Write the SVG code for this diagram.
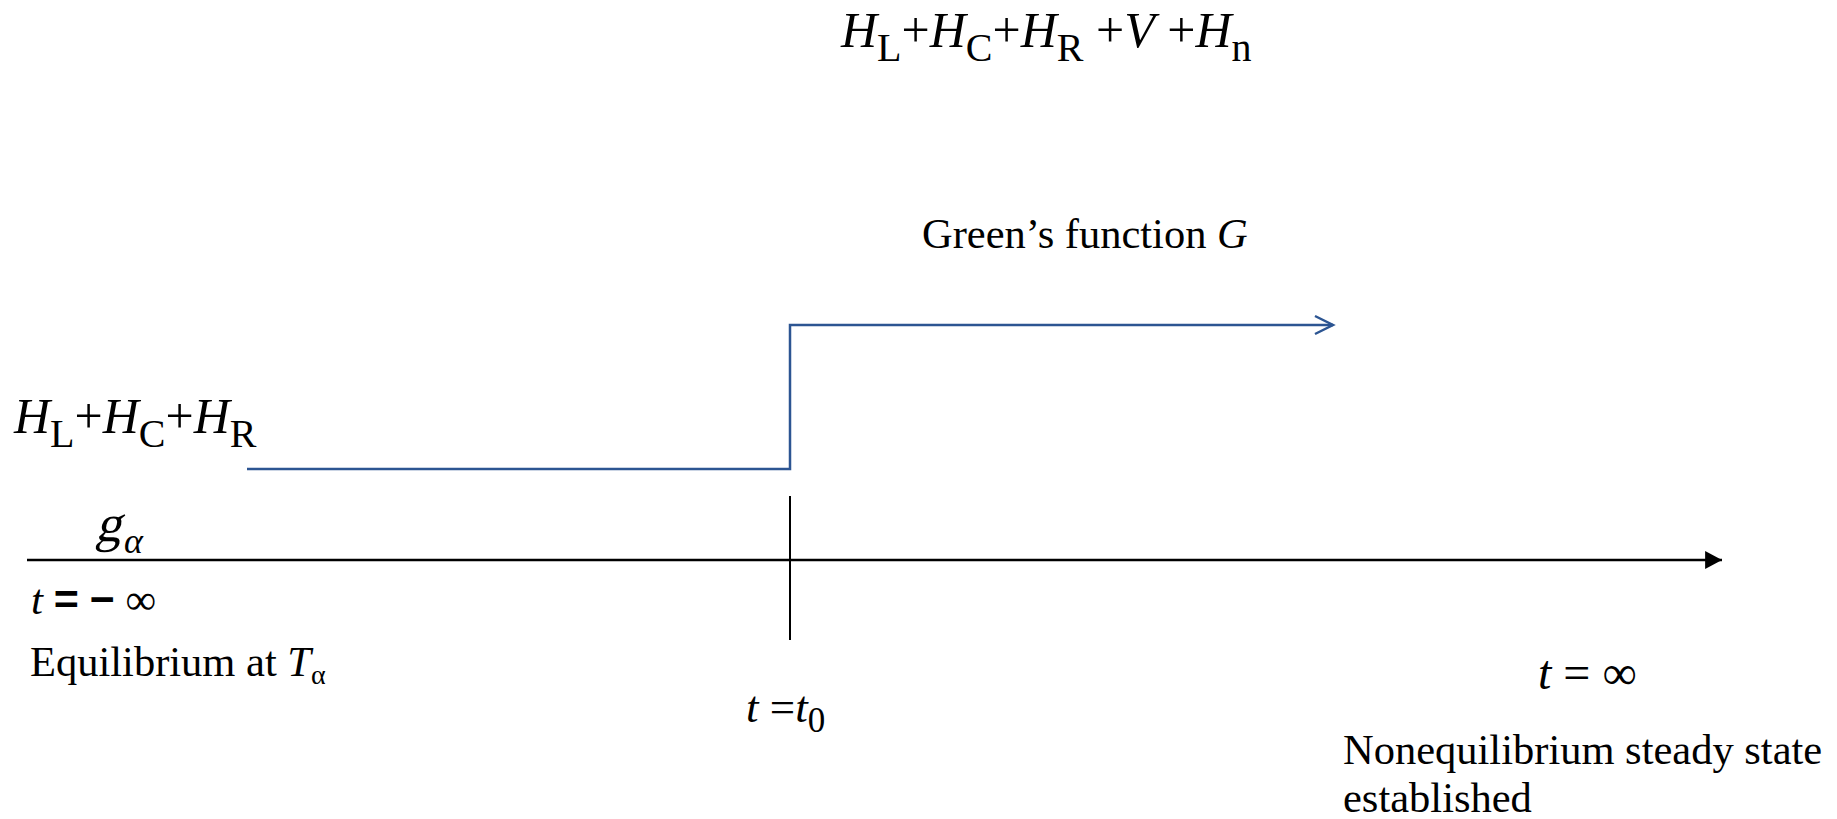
<svg xmlns="http://www.w3.org/2000/svg" width="1837" height="819" viewBox="0 0 1837 819">
<style>
text{font-family:"Liberation Serif","Times New Roman",serif;fill:#000}
.it{font-style:italic}
.big{font-size:50px}
.mid{font-size:42.5px}
.blue{fill:none;stroke:#2C5592;stroke-width:2.5}
.blk{fill:none;stroke:#000;stroke-width:2.5}
</style>
<defs>
<marker id="open" markerWidth="24" markerHeight="24" refX="20" refY="10" orient="auto" markerUnits="userSpaceOnUse" viewBox="0 0 24 20">
<path d="M2,1 L20,10 L2,19" fill="none" stroke="#2C5592" stroke-width="2.5"/>
</marker>
<marker id="solid" markerWidth="18" markerHeight="18" refX="15" refY="8" orient="auto" markerUnits="userSpaceOnUse" viewBox="0 0 16 16">
<path d="M0,0 L15,8 L0,16 Z" fill="#000"/>
</marker>
</defs>
<g id="connectors">
<path class="blue" d="M247,469 H790 V325 H1333" marker-end="url(#open)"/>
<line class="blk" x1="27" y1="560" x2="1722" y2="560" marker-end="url(#solid)"/>
<line x1="790" y1="496" x2="790" y2="640" stroke="#000" stroke-width="2"/>
</g>
<g id="top-hamiltonian">
<text class="big" x="841" y="47"><tspan class="it">H</tspan><tspan font-size="40" dy="14">L</tspan><tspan dy="-14">+</tspan><tspan class="it">H</tspan><tspan font-size="40" dy="14">C</tspan><tspan dy="-14">+</tspan><tspan class="it">H</tspan><tspan font-size="40" dy="14">R</tspan><tspan dy="-14"> +</tspan><tspan class="it">V</tspan><tspan> +</tspan><tspan class="it">H</tspan><tspan font-size="40" dy="14">n</tspan></text>
</g>
<g id="greens-function">
<text class="mid" x="922" y="248">Green’s function <tspan class="it">G</tspan></text>
</g>
<g id="left-hamiltonian">
<text class="big" x="14" y="433"><tspan class="it">H</tspan><tspan font-size="40" dy="14">L</tspan><tspan dy="-14">+</tspan><tspan class="it">H</tspan><tspan font-size="40" dy="14">C</tspan><tspan dy="-14">+</tspan><tspan class="it">H</tspan><tspan font-size="40" dy="14">R</tspan></text>
</g>
<g id="g-alpha">
<text x="95" y="541" font-size="52" transform="translate(0 541) skewX(-14) translate(0 -541)">g</text>
<text class="it" x="124" y="553" font-size="36">α</text>
</g>
<g id="t-minus-inf">
<text x="31" y="614" font-size="43"><tspan class="it">t</tspan> <tspan font-family="Liberation Sans, Arial, sans-serif" font-weight="bold">=</tspan> <tspan font-family="Liberation Sans, Arial, sans-serif" font-weight="bold">−</tspan> ∞</text>
</g>
<g id="equilibrium">
<text class="mid" x="30" y="676">Equilibrium at <tspan class="it">T</tspan><tspan font-size="28" dy="8">α</tspan></text>
</g>
<g id="t-t0">
<text x="746" y="722" font-size="45"><tspan class="it">t</tspan> =<tspan class="it">t</tspan><tspan font-size="35" dy="10">0</tspan></text>
</g>
<g id="t-inf">
<text x="1538" y="689" font-size="48"><tspan class="it">t</tspan> = ∞</text>
</g>
<g id="nonequilibrium">
<text class="mid" x="1343" y="764">Nonequilibrium steady state</text>
<text class="mid" x="1343" y="812">established</text>
</g>
</svg>
